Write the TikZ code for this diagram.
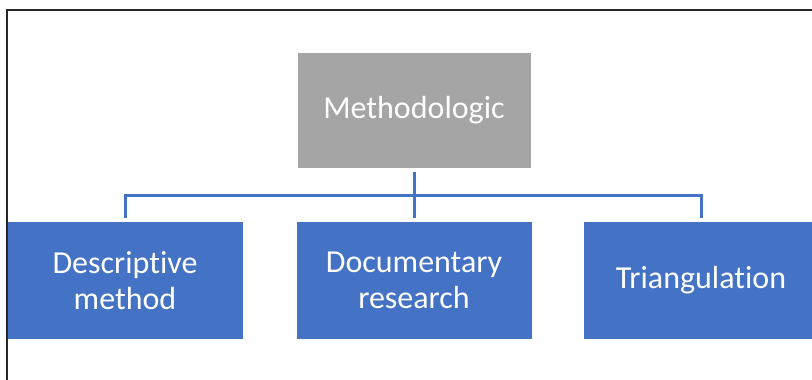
\documentclass[tikz,border=0pt]{standalone}
\usepackage{fontspec}
\setmainfont{Carlito}[Ligatures=NoCommon]
\definecolor{boxgray}{HTML}{A5A5A5}
\definecolor{boxblue}{HTML}{4472C4}
\begin{document}
\begin{tikzpicture}[x=1pt,y=-1pt,
    topbox/.style={fill=boxgray,text=white,minimum width=233pt,minimum height=115pt,inner sep=0pt},
    leafbox/.style={fill=boxblue,text=white,minimum width=235pt,minimum height=117pt,inner sep=0pt,align=center},
    link/.style={draw=boxblue,line width=3pt,shorten >=4pt}]
    \useasboundingbox (0,0) rectangle (812,380);
    \fontsize{32}{36}\selectfont
    % frame of the screenshot
    \draw[line width=2pt,black!85] (6.5,380) -- (6.5,9.5) -- (812,9.5);
    \node[topbox] (top) at (414,110.5) {Methodologic};
    \node[leafbox] (desc) at (125,280.5) {Descriptive\\method};
    \node[leafbox] (doc) at (414,280.5) {Documentary\\research};
    \node[leafbox] (tri) at (701,280.5) {Triangulation};
    \coordinate (bus) at (414,195);
    \draw[link,shorten >=0pt,shorten <=4pt] (top.south) -- (bus);
    \draw[link] (bus) -| (desc.north);
    \draw[link] (bus) -- (doc.north);
    \draw[link] (bus) -| (tri.north);
\end{tikzpicture}
\end{document}
